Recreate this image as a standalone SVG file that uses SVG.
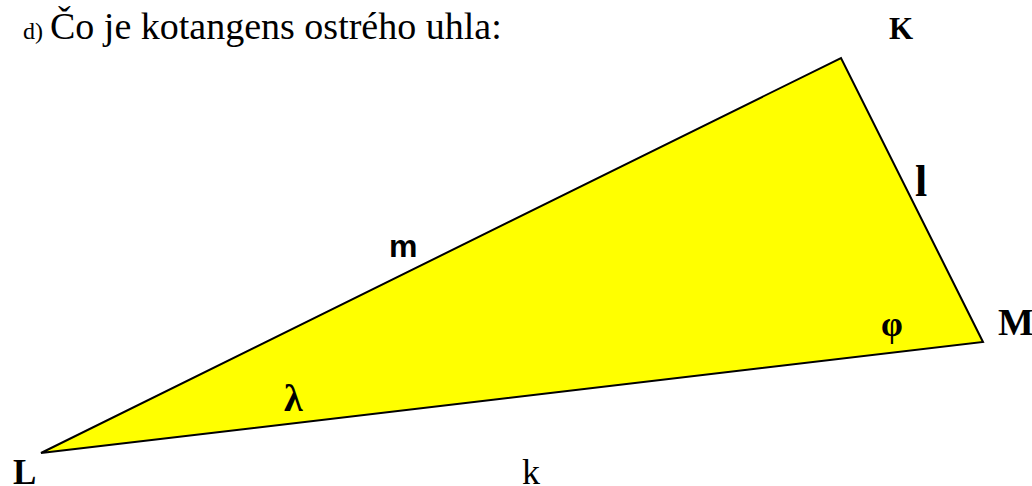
<svg xmlns="http://www.w3.org/2000/svg" width="1032" height="486" viewBox="0 0 1032 486">
<style>
.serif{font-family:"Liberation Serif","Times New Roman",serif;fill:#000}
.b{font-weight:bold}
.sans{font-family:"Liberation Sans",Arial,sans-serif;font-weight:bold;fill:#000}
</style>
<rect width="1032" height="486" fill="#fff"/>
<g id="title">
<text class="serif" x="23" y="39" font-size="24">d)</text>
<text class="serif" x="50" y="39" font-size="38">Čo je kotangens ostrého uhla:</text>
</g>
<g id="triangle">
<polygon points="41,453 841,58 983,342" fill="#ffff00" stroke="#000" stroke-width="2" stroke-linejoin="miter"/>
</g>
<g id="vertex-K"><text class="serif b" x="889" y="39" font-size="31">K</text></g>
<g id="vertex-M"><text class="serif b" x="998" y="335" font-size="38">M</text></g>
<g id="vertex-L"><text class="serif b" x="13" y="484" font-size="35">L</text></g>
<g id="side-l"><text class="serif b" x="915" y="196" font-size="44">l</text></g>
<g id="side-m"><text class="sans" x="389" y="257" font-size="32">m</text></g>
<g id="side-k"><text class="serif" x="522" y="484" font-size="36">k</text></g>
<g id="angle-lambda"><text class="serif b" x="284" y="411" font-size="38">λ</text></g>
<g id="angle-phi"><text class="serif b" x="881" y="336" font-size="35">φ</text></g>
</svg>
